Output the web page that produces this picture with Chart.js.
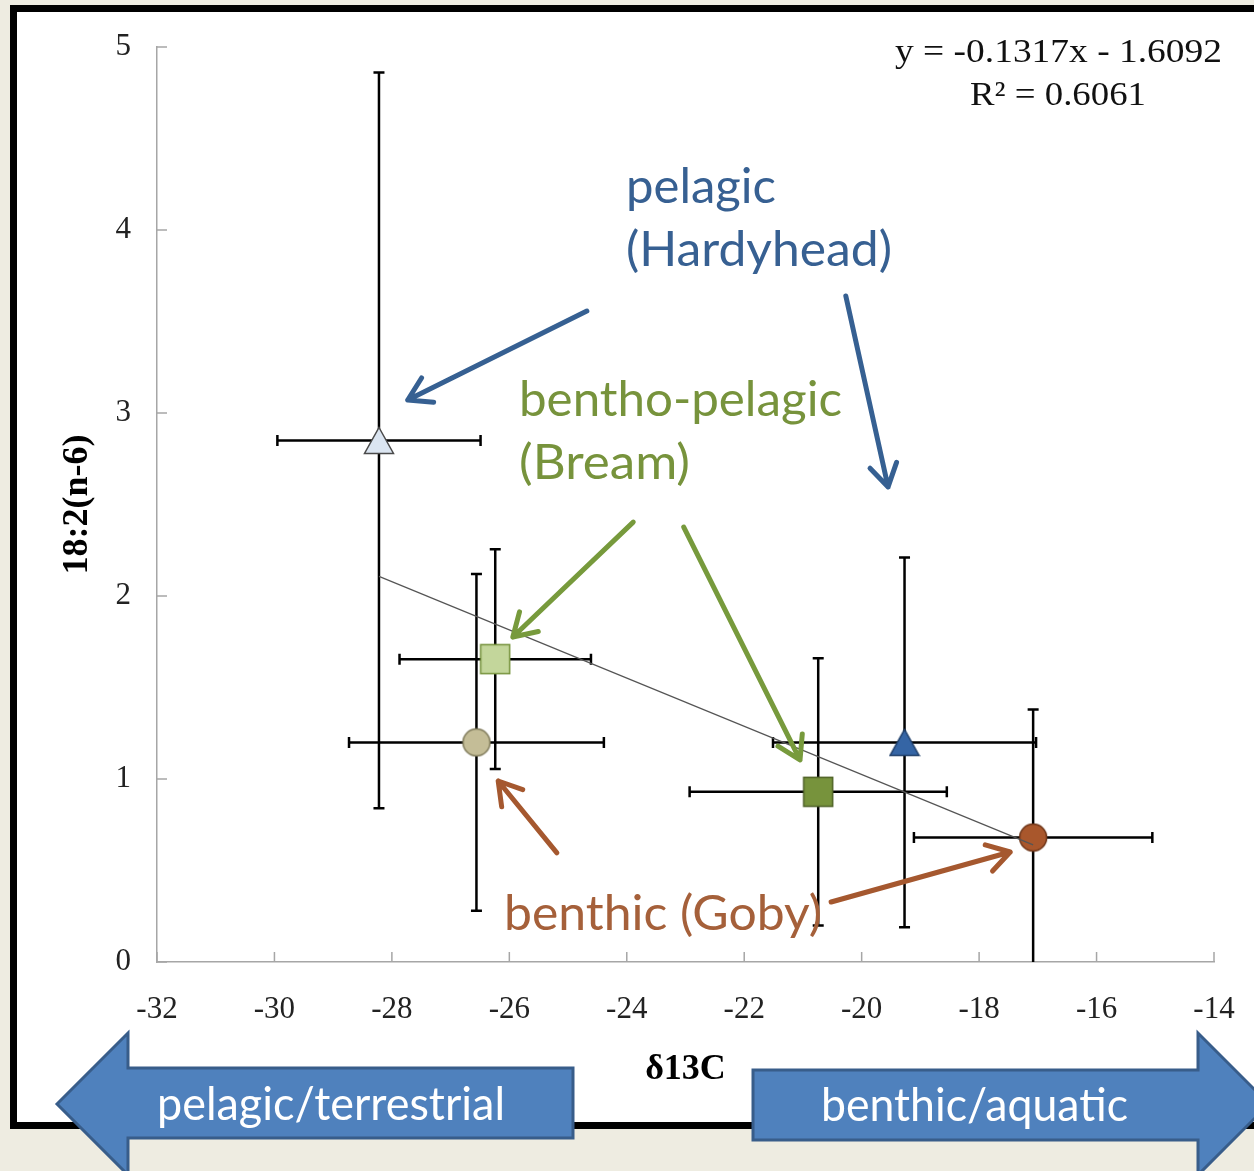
<!DOCTYPE html>
<html>
<head>
<meta charset="utf-8">
<script src="https://cdn.jsdelivr.net/npm/chart.js@4.4.0/dist/chart.umd.min.js"></script>
<style>
  html, body { margin: 0; padding: 0; background: #EEECE1; overflow: hidden; width: 1254px; height: 1171px; }
  #frame { position: absolute; left: 10px; top: 5px; width: 1300px; height: 1124px; box-sizing: border-box; border: 7px solid #000; background: #fff; }
  #wrap { position: absolute; left: 0; top: 0; width: 1254px; height: 1171px; }
</style>
</head>
<body>
<div id="frame"></div>
<div id="wrap"><canvas id="c"></canvas></div>
<script>
const SERIF = '"Liberation Serif", "Times New Roman", serif';
const SANS = 'Lato, "Open Sans", sans-serif';

// Mean ± SD per species group.
const seriesNames = ["Hardyhead (a)", "Bream (a)", "Goby (a)", "Hardyhead (b)", "Bream (b)", "Goby (b)"];
const d13cMean = [-28.22, -26.24, -26.56, -19.27, -20.74, -17.08];
const d13cErr = [1.73, 1.63, 2.17, 2.24, 2.19, 2.03];
const la18Mean = [2.85, 1.655, 1.20, 1.20, 0.93, 0.68];
const la18Err = [2.01, 0.60, 0.92, 1.01, 0.73, 0.70];
const xTicks = [-32, -30, -28, -26, -24, -22, -20, -18, -16, -14];
const yTicks = [0, 1, 2, 3, 4, 5];

// Linear fit shown on the chart.
const trendSlope = -0.1317;
const trendIntercept = -1.6092;
const trendR2 = 0.6061;

const markerShape = ["triangle", "rect", "circle", "triangle", "rect", "circle"];
const markerFill = ["#DBE5F1", "#C3D69B", "#C4BD97", "#3565A5", "#77933C", "#A9572C"];
const markerEdge = ["#4A4A4A", "#76923C", "#7F7A5A", "#1F3F6A", "#4F6228", "#6E3518"];

function marker(shape, fill, edge) {
  const c = document.createElement("canvas");
  const w = shape === "circle" ? 30 : 32;
  const h = shape === "triangle" ? 29 : w;
  c.width = w; c.height = h;
  const g = c.getContext("2d");
  g.fillStyle = fill; g.strokeStyle = edge; g.lineWidth = 1.5;
  g.beginPath();
  if (shape === "triangle") { g.moveTo(w / 2, 1.5); g.lineTo(w - 1.5, h - 1.5); g.lineTo(1.5, h - 1.5); g.closePath(); }
  else if (shape === "rect") g.rect(1.5, 1.5, w - 3, h - 3);
  else g.arc(w / 2, h / 2, w / 2 - 1.5, 0, Math.PI * 2);
  g.fill(); g.stroke();
  return c;
}

const fitX = [Math.min(...d13cMean), Math.max(...d13cMean)];
const datasets = [
  {
    type: "line", label: "Linear fit", order: -1,
    data: fitX.map((v) => ({ x: v, y: trendSlope * v + trendIntercept })),
    borderColor: "#555", borderWidth: 1.2, pointRadius: 0, fill: false,
  },
  ...seriesNames.map((name, i) => ({
    label: name,
    data: [{ x: d13cMean[i], y: la18Mean[i] }],
    pointStyle: marker(markerShape[i], markerFill[i], markerEdge[i]),
    pointRadius: 15,
  })),
];

// Annotation arrows in data units (x = δ13C, y = 18:2(n-6)).
const pointerArrows = [
  { color: "#366092", from: [-24.68, 3.557], to: [-27.73, 3.071] },
  { color: "#366092", from: [-20.27, 3.639], to: [-19.55, 2.596] },
  { color: "#779A3C", from: [-23.89, 2.404], to: [-25.94, 1.776] },
  { color: "#779A3C", from: [-23.03, 2.377], to: [-21.05, 1.104] },
  { color: "#A5582F", from: [-25.19, 0.596], to: [-26.19, 0.989] },
  { color: "#A5582F", from: [-20.52, 0.328], to: [-17.47, 0.601] },
];

// Text boxes: left edge, baseline, width to fill.
const textLabels = [
  { text: `y = ${trendSlope}x - ${Math.abs(trendIntercept)}`, x: 895, y: 62, w: 327, font: `34px ${SERIF}`, color: "#111" },
  { text: `R² = ${trendR2}`, x: 970, y: 105, w: 176, font: `34px ${SERIF}`, color: "#111" },
  { text: "pelagic", x: 626, y: 203, w: 150, font: `48px ${SANS}`, color: "#376092" },
  { text: "(Hardyhead)", x: 626, y: 266, w: 266, font: `48px ${SANS}`, color: "#376092" },
  { text: "bentho-pelagic", x: 519, y: 416, w: 323, font: `48px ${SANS}`, color: "#77933C" },
  { text: "(Bream)", x: 519, y: 479, w: 171, font: `48px ${SANS}`, color: "#77933C" },
  { text: "benthic (Goby)", x: 504, y: 930, w: 318, font: `48px ${SANS}`, color: "#A5603A" },
  { text: "pelagic/terrestrial", x: 157, y: 1120, w: 348, font: `46px ${SANS}`, color: "#fff" },
  { text: "benthic/aquatic", x: 821, y: 1121, w: 307, font: `46px ${SANS}`, color: "#fff" },
];

// Big direction arrows under the axis (pixels).
const directionArrows = [
  [[57, 1104], [128, 1033], [128, 1068], [573, 1068], [573, 1138], [128, 1138], [128, 1175]],
  [[753, 1070], [1198, 1070], [1198, 1033], [1269, 1104], [1198, 1175], [1198, 1140], [753, 1140]],
];

function drawArrow(ctx, x1, y1, x2, y2, color) {
  const ang = Math.atan2(y2 - y1, x2 - x1), head = 26, spread = 0.55;
  ctx.strokeStyle = color; ctx.lineWidth = 5; ctx.lineCap = "round"; ctx.lineJoin = "round";
  ctx.beginPath();
  ctx.moveTo(x1, y1); ctx.lineTo(x2, y2);
  ctx.moveTo(x2 - head * Math.cos(ang - spread), y2 - head * Math.sin(ang - spread));
  ctx.lineTo(x2, y2);
  ctx.lineTo(x2 - head * Math.cos(ang + spread), y2 - head * Math.sin(ang + spread));
  ctx.stroke();
}

const decorations = {
  id: "decorations",
  beforeDatasetsDraw(chart) {
    const { ctx, chartArea: a, scales: { x, y } } = chart;
    ctx.save();
    // inward tick marks
    ctx.strokeStyle = "#A6A6A6"; ctx.lineWidth = 1.5;
    ctx.beginPath();
    xTicks.forEach((v) => { const p = x.getPixelForValue(v); ctx.moveTo(p, a.bottom); ctx.lineTo(p, a.bottom - 10); });
    yTicks.forEach((v) => { const p = y.getPixelForValue(v); ctx.moveTo(a.left, p); ctx.lineTo(a.left + 10, p); });
    ctx.stroke();
    // error bars, clipped at the x axis
    ctx.beginPath(); ctx.rect(a.left - 30, a.top - 30, a.right - a.left + 60, a.bottom - a.top + 30); ctx.clip();
    ctx.strokeStyle = "#000"; ctx.lineWidth = 2.5; ctx.lineCap = "butt";
    const cap = 5.5;
    d13cMean.forEach((mx, i) => {
      const px = x.getPixelForValue(mx), py = y.getPixelForValue(la18Mean[i]);
      const x0 = x.getPixelForValue(mx - d13cErr[i]), x1 = x.getPixelForValue(mx + d13cErr[i]);
      const y0 = y.getPixelForValue(la18Mean[i] - la18Err[i]), y1 = y.getPixelForValue(la18Mean[i] + la18Err[i]);
      ctx.beginPath();
      ctx.moveTo(x0, py); ctx.lineTo(x1, py);
      ctx.moveTo(x0, py - cap); ctx.lineTo(x0, py + cap);
      ctx.moveTo(x1, py - cap); ctx.lineTo(x1, py + cap);
      ctx.moveTo(px, y0); ctx.lineTo(px, y1);
      ctx.moveTo(px - cap, y0); ctx.lineTo(px + cap, y0);
      ctx.moveTo(px - cap, y1); ctx.lineTo(px + cap, y1);
      ctx.stroke();
    });
    ctx.restore();
  },
  afterDraw(chart) {
    const { ctx, scales: { x, y } } = chart;
    ctx.save();
    directionArrows.forEach((pts) => {
      ctx.beginPath();
      pts.forEach(([px, py], k) => (k ? ctx.lineTo(px, py) : ctx.moveTo(px, py)));
      ctx.closePath();
      ctx.fillStyle = "#4F81BD"; ctx.fill();
      ctx.strokeStyle = "#385D8A"; ctx.lineWidth = 3; ctx.lineJoin = "miter"; ctx.stroke();
    });
    pointerArrows.forEach((p) => {
      drawArrow(ctx,
        x.getPixelForValue(p.from[0]), y.getPixelForValue(p.from[1]),
        x.getPixelForValue(p.to[0]), y.getPixelForValue(p.to[1]), p.color);
    });
    textLabels.forEach((t) => {
      ctx.font = t.font; ctx.fillStyle = t.color;
      ctx.textAlign = "left"; ctx.textBaseline = "alphabetic";
      const w = ctx.measureText(t.text).width;
      ctx.save();
      ctx.translate(t.x, t.y);
      ctx.scale(t.w / w, 1);
      ctx.fillText(t.text, 0, 0);
      ctx.restore();
    });
    ctx.restore();
  },
};

new Chart(document.getElementById("c"), {
  type: "scatter",
  data: { datasets },
  plugins: [decorations],
  options: {
    responsive: true,
    maintainAspectRatio: false,
    animation: false,
    layout: { padding: { left: 0, right: 40, top: 47, bottom: 0 } },
    plugins: { legend: { display: false }, tooltip: { enabled: false } },
    scales: {
      x: {
        type: "linear", min: -32, max: -14,
        afterBuildTicks: (s) => { s.ticks = xTicks.map((v) => ({ value: v })); },
        afterFit: (s) => { s.height = 209; s.paddingLeft = 0; s.paddingRight = 0; },
        ticks: { font: { family: SERIF, size: 31 }, color: "#222", padding: 29 },
        grid: { display: false, drawTicks: false },
        border: { color: "#A6A6A6", width: 1.5 },
        title: { display: true, text: "δ13C", color: "#000", font: { family: SERIF, size: 36, weight: "bold" }, padding: { top: 0, bottom: 80 } },
      },
      y: {
        type: "linear", min: 0, max: 5,
        afterBuildTicks: (s) => { s.ticks = yTicks.map((v) => ({ value: v })); },
        afterFit: (s) => { s.width = 157; s.paddingTop = 0; s.paddingBottom = 0; },
        ticks: { font: { family: SERIF, size: 31 }, color: "#222", padding: 26 },
        grid: { display: false, drawTicks: false },
        border: { color: "#A6A6A6", width: 1.5 },
        title: { display: true, text: "18:2(n-6)", color: "#000", font: { family: SERIF, size: 36, weight: "bold" }, padding: { top: 56, bottom: 0 } },
      },
    },
  },
});
</script>
</body>
</html>
